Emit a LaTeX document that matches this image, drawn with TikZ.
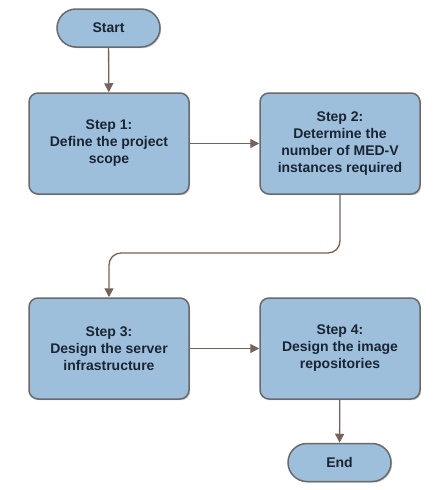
\documentclass[tikz,border=0pt]{standalone}
\usepackage{fontspec}
\setmainfont{Liberation Sans}
\usetikzlibrary{arrows.meta,shadows}
\definecolor{boxfill}{HTML}{9EBFDC}
\definecolor{boxline}{HTML}{6A6A6A}
\definecolor{arrowc}{HTML}{76625A}
\definecolor{txt}{HTML}{1A2533}
\tikzset{
  base/.style={draw=boxline, line width=1.5pt, fill=boxfill, text=txt,
    font=\bfseries\fontsize{14}{17}\selectfont, align=center, inner sep=0pt,
    drop shadow={shadow xshift=1.2pt, shadow yshift=-1.2pt, opacity=0.35, fill=black!60}},
  stepbox/.style={base, rounded corners=9pt, minimum width=160pt, minimum height=101pt},
  term/.style={base, rounded corners=19pt, minimum width=103pt, minimum height=38pt},
  conn/.style={draw=arrowc, line width=1.3pt, -{Triangle[length=9pt,width=9pt]}}
}
\begin{document}
\begin{tikzpicture}[x=1pt,y=-1pt]
\useasboundingbox (0,0) rectangle (436,490);
\node[term] (start) at (108.5,28) {Start};
\node[stepbox] (s1) at (109,143.5) {Step 1:\\Define the project\\scope};
\node[stepbox] (s2) at (340,143.5) {Step 2:\\Determine the\\number of MED-V\\instances required};
\node[stepbox] (s3) at (109,348.5) {Step 3:\\Design the server\\infrastructure};
\node[stepbox] (s4) at (340,348.5) {Step 4:\\Design the image\\repositories};
\node[term] (end) at (339.5,462.5) {End};
\coordinate (bend) at (0,253);
\draw[conn] (start) -- (s1);
\draw[conn] (s1) -- (s2);
\draw[conn, rounded corners=12pt] (s2.south) |- (bend -| s3.north) -- (s3.north);
\draw[conn] (s3) -- (s4);
\draw[conn] (s4) -- (end);
\end{tikzpicture}
\end{document}
